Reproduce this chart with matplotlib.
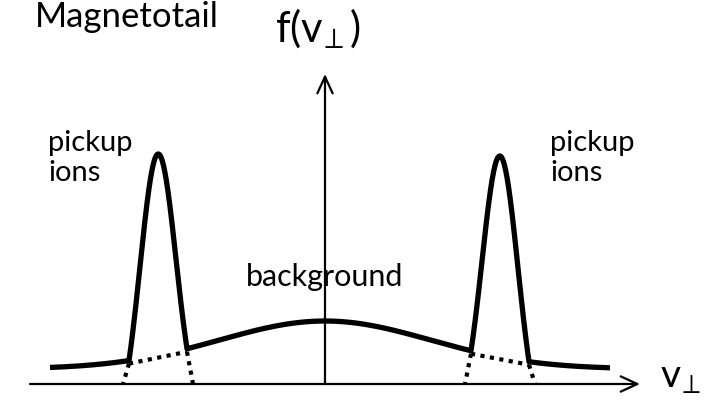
import numpy as np
import matplotlib
matplotlib.use("Agg")
import matplotlib.pyplot as plt

plt.rcParams['font.family'] = ['Lato', 'DejaVu Sans']
plt.rcParams['mathtext.fontset'] = 'custom'
plt.rcParams['mathtext.rm'] = 'Lato'
plt.rcParams['mathtext.it'] = 'Lato'

# background distribution (broad hump around v = 0)
bg_level = 15
bg_amp = 48
bg_width = 105

# pickup-ion peaks
peak_centers = [-167, 175]
peak_tops = [230, 228]
peak_halfwidth = 29
peak_sigma = 18

# axis extents
v_min, v_max = -295, 315
f_top = 310

fig = plt.figure(figsize=(7.10, 4.06), dpi=100)
ax = fig.add_axes([0, 0, 1, 1])
ax.set_xlim(-325, 385)
ax.set_ylim(-21, 385)
ax.axis('off')


def background(v):
    return bg_level + bg_amp * np.exp(-v ** 2 / (2 * bg_width ** 2))


v = np.linspace(-275, 285, 2000)
f = background(v)
for c, top in zip(peak_centers, peak_tops):
    d = v - c
    inside = np.abs(d) <= peak_halfwidth
    e0 = np.exp(-peak_halfwidth ** 2 / (2 * peak_sigma ** 2))
    shape = (np.exp(-d ** 2 / (2 * peak_sigma ** 2)) - e0) / (1 - e0)
    base = background(c)
    f = np.where(inside, f + (top - base) * shape, f)

ax.plot(v, f, color='black', lw=3.8, solid_capstyle='butt', zorder=3)

# dotted base of each peak: background underneath and the peak's feet
dots = dict(color='black', lw=3, ls=(0, (1, 1.3)), zorder=2)
for c in peak_centers:
    vl, vr = c - peak_halfwidth, c + peak_halfwidth
    ax.plot([vl, vr], [background(vl) - 3, background(vr) - 3], **dots)
    ax.plot([vl, vl - 6], [background(vl) - 3, 0], **dots)
    ax.plot([vr, vr + 6], [background(vr) - 3, 0], **dots)

# axes with open arrow heads
arrow = dict(arrowstyle='->,head_length=1.2,head_width=0.55', color='black',
             lw=1.6, shrinkA=0, shrinkB=0)
ax.annotate('', xy=(v_max, 0), xytext=(v_min, 0), arrowprops=arrow)
ax.annotate('', xy=(0, f_top), xytext=(0, 0), arrowprops=arrow)

ax.text(-290, 358, 'Magnetotail', fontsize=25, ha='left', va='baseline')
ax.text(-7, 343, r'f(v$_{\!\perp}$)', fontsize=30, ha='center', va='baseline')
ax.text(-277, 234, 'pickup', fontsize=21, ha='left', va='baseline')
ax.text(-277, 204, 'ions', fontsize=21, ha='left', va='baseline')
ax.text(225, 234, 'pickup', fontsize=21, ha='left', va='baseline')
ax.text(225, 204, 'ions', fontsize=21, ha='left', va='baseline')
ax.text(0, 99, 'background', fontsize=22, ha='center', va='baseline')
ax.text(335, -2, r'v$_{\!\perp}$', fontsize=28, ha='left', va='baseline')

fig.savefig('out.png', dpi=100, facecolor='white')
